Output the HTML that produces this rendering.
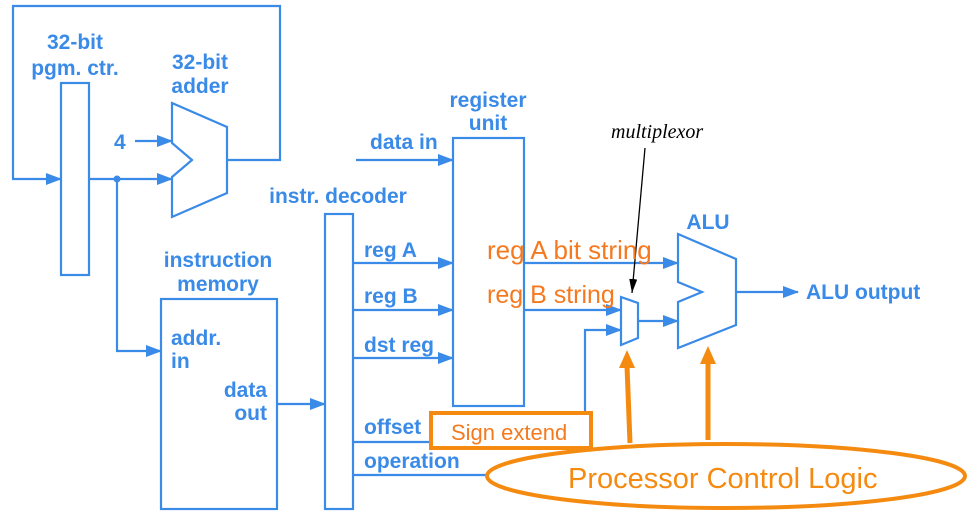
<!DOCTYPE html>
<html><head><style>
html,body{margin:0;padding:0;background:#fff;width:980px;height:516px;overflow:hidden}
svg{display:block}
.b{font-family:"Liberation Sans",sans-serif;font-weight:bold;font-size:21px;fill:#3a8ae8}
.o{font-family:"Liberation Sans",sans-serif;fill:#f57a1f}
</style></head><body>
<svg width="980" height="516" viewBox="0 0 980 516" xmlns="http://www.w3.org/2000/svg">
<defs>
<marker id="ab" markerWidth="16" markerHeight="12" refX="15" refY="6" orient="auto" markerUnits="userSpaceOnUse"><path d="M0,0 L16,6 L0,12 z" fill="#3a8ae8"/></marker>
<marker id="ak" markerWidth="14" markerHeight="8" refX="14" refY="4" orient="auto" markerUnits="userSpaceOnUse"><path d="M0,0 L14,4 L0,8 z" fill="#000"/></marker>
</defs>
<g stroke="#3a8ae8" stroke-width="2.2" fill="none">
<polyline points="227,160 280,160 280,6 13,6 13,179 61,179" marker-end="url(#ab)"/>
<rect x="61" y="83" width="28" height="192"/>
<polygon points="172,103 227,127 227,193 172,217 172,177 192,160 172,143"/>
<line x1="135" y1="141" x2="172" y2="141" marker-end="url(#ab)"/>
<line x1="89" y1="179" x2="172" y2="179" marker-end="url(#ab)"/>
<polyline points="117,179 117,351 161,351" marker-end="url(#ab)"/>
<rect x="161" y="299" width="116" height="210"/>
<line x1="277" y1="404" x2="325" y2="404" marker-end="url(#ab)"/>
<rect x="325" y="214" width="28" height="295"/>
<rect x="453" y="138" width="71" height="268"/>
<line x1="356" y1="160" x2="453" y2="160" marker-end="url(#ab)"/>
<line x1="353" y1="263" x2="453" y2="263" marker-end="url(#ab)"/>
<line x1="353" y1="310" x2="453" y2="310" marker-end="url(#ab)"/>
<line x1="353" y1="358" x2="453" y2="358" marker-end="url(#ab)"/>
<line x1="353" y1="442" x2="431" y2="442"/>
<line x1="353" y1="475" x2="488" y2="475"/>
<line x1="524" y1="263" x2="678" y2="263" marker-end="url(#ab)"/>
<line x1="524" y1="310" x2="621" y2="310" marker-end="url(#ab)"/>
<polyline points="585,411 585,330 621,330" marker-end="url(#ab)"/>
<polygon points="621,297 638,303 638,338 621,345"/>
<line x1="638" y1="321" x2="678" y2="321" marker-end="url(#ab)"/>
<polygon points="678,234 736,259 736,325 678,348 678,302 702,292 678,282"/>
<line x1="736" y1="292" x2="798" y2="292" marker-end="url(#ab)"/>
</g>
<circle cx="117" cy="179" r="3.5" fill="#3a8ae8"/>
<text class="b" x="75" y="49" text-anchor="middle">32-bit</text>
<text class="b" x="75" y="75" text-anchor="middle">pgm. ctr.</text>
<text class="b" x="200" y="69" text-anchor="middle">32-bit</text>
<text class="b" x="200" y="93" text-anchor="middle">adder</text>
<text class="b" x="114" y="149" font-size="22">4</text>
<text class="b" x="218" y="267" text-anchor="middle">instruction</text>
<text class="b" x="218" y="291" text-anchor="middle">memory</text>
<text class="b" x="171" y="345">addr.</text>
<text class="b" x="171" y="368">in</text>
<text class="b" x="267" y="397" text-anchor="end">data</text>
<text class="b" x="267" y="420" text-anchor="end">out</text>
<text class="b" x="338" y="203" text-anchor="middle">instr. decoder</text>
<text class="b" x="488" y="107" text-anchor="middle">register</text>
<text class="b" x="488" y="130" text-anchor="middle">unit</text>
<text class="b" x="370" y="149">data in</text>
<text class="b" x="364" y="257">reg A</text>
<text class="b" x="364" y="303">reg B</text>
<text class="b" x="364" y="352">dst reg</text>
<text class="b" x="364" y="434">offset</text>
<text class="b" x="364" y="468">operation</text>
<text class="b" x="708" y="229" text-anchor="middle">ALU</text>
<text class="b" x="806" y="299">ALU output</text>
<text x="611" y="138" font-family="Liberation Serif,serif" font-style="italic" font-size="20" fill="#000">multiplexor</text>
<line x1="645" y1="148" x2="632" y2="293" stroke="#000" stroke-width="1.3" marker-end="url(#ak)"/>
<text class="o" x="487" y="259" font-size="26">reg A bit string</text>
<text class="o" x="487" y="303" font-size="25">reg B string</text>
<rect x="431" y="413" width="160" height="35" fill="#fff" stroke="#f58a10" stroke-width="4"/>
<text class="o" x="451" y="440" font-size="22">Sign extend</text>
<g stroke="#f58a10" stroke-width="5">
<line x1="630" y1="443" x2="627" y2="366"/>
<line x1="708" y1="440" x2="708" y2="362"/>
</g>
<polygon points="627,350 619,368 635,368" fill="#f58a10"/>
<polygon points="708,346 700,364 716,364" fill="#f58a10"/>
<ellipse cx="726" cy="476" rx="239" ry="32" fill="#fff" stroke="#f58a10" stroke-width="4"/>
<text x="568" y="488" font-family="Liberation Sans,sans-serif" font-size="29" fill="#f58a10">Processor Control Logic</text>
</svg>
</body></html>
